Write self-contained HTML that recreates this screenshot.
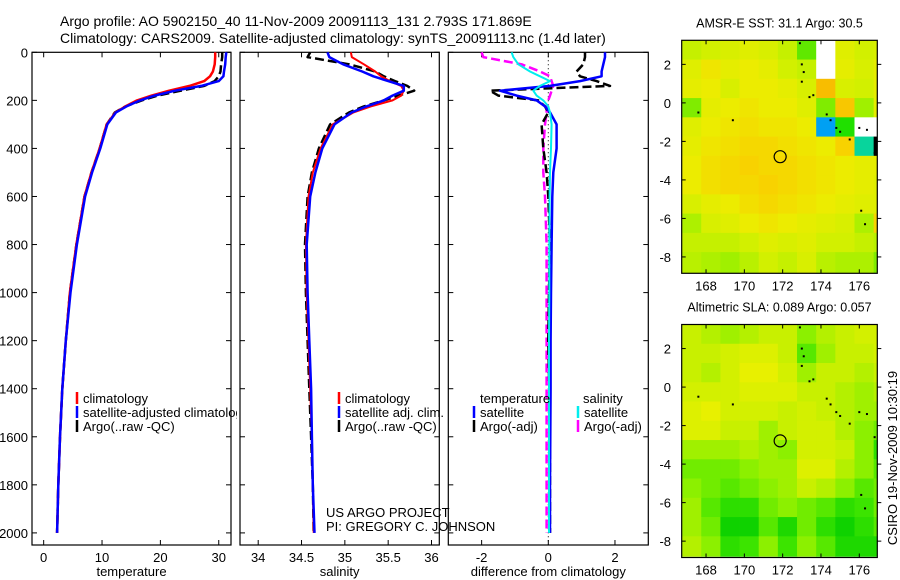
<!DOCTYPE html>
<html><head><meta charset="utf-8"><style>
body{margin:0;background:#fff;}
svg{display:block;font-family:"Liberation Sans",sans-serif;}
</style></head><body>
<svg id="c" width="900" height="580" viewBox="0 0 900 580">
<defs>
<clipPath id="cp1"><rect x="32" y="52" width="205" height="494"/></clipPath>
<clipPath id="cp1b"><rect x="32" y="52" width="199" height="493"/></clipPath>
<clipPath id="cp2"><rect x="240" y="52" width="199" height="493"/></clipPath>
<clipPath id="cp3"><rect x="448" y="52" width="200" height="493"/></clipPath>
<clipPath id="cpm1"><rect x="681.7" y="40.3" width="195.6" height="233"/></clipPath>
<clipPath id="cpm2"><rect x="681.7" y="324.5" width="195.6" height="232.2"/></clipPath>
</defs>
<text x="60" y="26" font-size="14">Argo profile: AO 5902150_40 11-Nov-2009 20091113_131 2.793S 171.869E</text>
<text x="60" y="43" font-size="14">Climatology: CARS2009. Satellite-adjusted climatology: synTS_20091113.nc (1.4d later)</text>
<g id="g"></g>
</svg>
<script>
// ---------- profile data ----------
const depths=[0,20,50,80,100,120,140,160,180,200,225,250,300,400,500,600,800,1000,1200,1400,1600,1800,2000];
const tempClim=[29.4,29.4,29.3,29.0,28.5,27.5,25.0,21.5,18.5,16.0,14.0,12.3,10.8,9.6,8.2,7.0,5.6,4.5,3.8,3.2,2.8,2.5,2.3];
const tempSat=[31.3,31.2,31.1,30.9,30.8,30.0,27.0,22.5,19.0,16.5,14.2,12.4,10.9,9.7,8.3,7.1,5.7,4.6,3.8,3.2,2.8,2.5,2.3];
const tempArgo=[30.6,30.6,30.4,30.3,30.0,29.3,27.5,23.5,19.5,16.8,14.0,12.2,10.8,9.6,8.2,7.0,5.6,4.5,3.8,3.2,2.8,2.5,2.3];
const salClim=[35.07,35.08,35.22,35.35,35.42,35.52,35.65,35.68,35.65,35.55,35.30,35.10,34.86,34.72,34.63,34.58,34.55,34.56,34.58,34.60,34.62,34.63,34.64];
const salSat=[34.80,34.82,34.98,35.20,35.33,35.50,35.68,35.68,35.55,35.45,35.25,35.08,34.88,34.74,34.66,34.60,34.56,34.57,34.59,34.61,34.62,34.63,34.65];
const salArgo=[34.60,34.57,35.05,35.35,35.45,35.58,35.72,35.80,35.62,35.45,35.22,35.05,34.83,34.70,34.62,34.57,34.54,34.55,34.57,34.59,34.61,34.63,34.64];
const dTSat=[1.7,1.7,1.65,1.6,1.6,0.95,0.05,-1.45,-0.95,-0.35,-0.1,0.05,0.25,0.25,0.15,0.12,0.1,0.08,0.07,0.07,0.06,0.05,0.05];
const dTArgo=[1.1,1.1,1.05,0.85,0.95,1.45,1.85,-1.75,-1.5,-0.3,-0.1,0,-0.2,-0.15,-0.05,0,0.05,0.02,0,0.03,0.05,0.05,0.05];
const dSSat=[-1.1,-1.05,-0.9,-0.55,-0.25,0.05,-0.25,-0.45,-0.35,-0.15,0,0.05,0.1,0.08,0.05,0.04,0.03,0.03,0.02,0.02,0.02,0.02,0.02];
const dSArgo=[-2.0,-1.95,-0.8,-0.25,0.05,0.1,0.15,0.1,0.05,0,-0.05,-0.05,-0.1,-0.15,-0.15,-0.1,-0.05,-0.05,-0.05,-0.05,-0.05,-0.05,-0.05];
const depthTicks=[0,200,400,600,800,1000,1200,1400,1600,1800,2000];
const tempTicks=[0,10,20,30];
const salTicks=[34,34.5,35,35.5,36];
const salTickLabels=["34","34.5","35","35.5","36"];
const diffTicks=[-2,0,2];
// ---------- map data ----------
const lonTicks=[168,170,172,174,176];
const latTicks=[2,0,-2,-4,-6,-8];
const argoLon=171.869, argoLat=-2.793;
const sstGrid=[
[30.0,30.1,30.2,30.3,30.2,30.0,29.5,null,30.3,30.1,30.2],
[30.3,30.6,30.4,30.5,30.4,30.1,30.0,null,30.4,30.2,30.4],
[30.4,30.5,30.2,30.5,30.5,30.4,30.2,31.1,30.2,30.1,30.4],
[29.6,30.4,30.5,30.6,30.5,30.5,30.3,29.6,31.0,29.7,30.4],
[30.3,30.5,30.6,30.7,30.6,30.6,30.5,28.6,29.3,null,null],
[30.4,30.6,30.7,30.8,30.8,30.7,30.6,30.5,30.9,29.0,28.5],
[30.5,30.7,30.8,30.9,30.8,30.8,30.7,30.6,30.5,30.4,30.4],
[30.5,30.7,30.8,30.8,30.9,30.8,30.7,30.6,30.5,30.4,30.3],
[30.2,30.4,30.5,30.7,30.8,30.7,30.6,30.5,30.4,30.3,30.3],
[29.8,30.2,30.3,30.5,30.6,30.5,30.4,30.3,30.2,29.8,30.9],
[30.0,30.0,30.0,30.1,30.3,30.2,30.3,30.1,30.1,30.0,29.9],
[29.9,29.8,29.7,29.9,30.1,30.0,30.2,29.9,29.8,29.8,29.6],
[29.9,29.8,29.7,29.9,30.1,30.0,30.2,29.9,29.8,29.8,29.6]];
const slaGrid=[
[0.10,0.09,0.08,0.09,0.10,0.10,0.07,0.09,0.10,0.11,0.11],
[0.10,0.10,0.11,0.12,0.12,0.10,0.05,0.08,0.10,0.10,0.11],
[0.10,0.09,0.11,0.13,0.13,0.11,0.08,0.10,0.10,0.09,0.10],
[0.11,0.11,0.11,0.12,0.12,0.12,0.10,0.10,0.09,0.08,0.09],
[0.12,0.13,0.11,0.11,0.11,0.10,0.11,0.10,0.09,0.08,0.08],
[0.12,0.12,0.10,0.10,0.08,0.10,0.11,0.11,0.09,0.07,0.06],
[0.08,0.08,0.08,0.09,0.08,0.07,0.11,0.11,0.10,0.07,0.03],
[0.06,0.06,0.06,0.07,0.08,0.08,0.12,0.12,0.09,0.07,0.05],
[0.07,0.06,0.05,0.06,0.07,0.08,0.10,0.09,0.07,0.05,0.06],
[0.08,0.05,0.03,0.03,0.06,0.07,0.06,0.05,0.03,0.04,0.06],
[0.08,0.06,0.01,0.01,0.05,0.02,0.06,0.03,0.01,0.03,0.05],
[0.09,0.07,0.03,0.04,0.07,0.04,0.07,0.05,0.02,0.02,0.02],
[0.09,0.07,0.03,0.04,0.07,0.04,0.07,0.05,0.02,0.02,0.02]];
const islandLon=[172.9,173.0,173.1,173.0,173.4,173.6,174.3,174.5,174.8,175.0,175.5,176.0,176.4,176.8,176.1,176.3,167.6,169.4];
const islandLat=[3.1,2.0,1.6,1.1,0.3,0.4,-0.6,-0.9,-1.3,-1.5,-1.9,-1.3,-1.4,-2.6,-5.6,-6.3,-0.5,-0.9];

const NS="http://www.w3.org/2000/svg";
const G=document.getElementById('g');
function mk(tag,attrs,parent){const e=document.createElementNS(NS,tag);for(const k in attrs)e.setAttribute(k,attrs[k]);(parent||G).appendChild(e);return e;}

// depth axis
const yTop=52.3, yScale=0.2403;
function yD(d){return yTop+d*yScale;}
const P1={l:32,r:231,min:-2,max:32.1};
const P2={l:240,r:439.3,min:33.79,max:36.09};
const P3={l:448.3,r:648.3,min:-3,max:3};
const yBot=545;
function xf(p){return v=>p.l+(v-p.min)/(p.max-p.min)*(p.r-p.l);}
const x1=xf(P1),x2=xf(P2),x3=xf(P3);

function frame(p,xs,ticks,labels,name,xlabel,ylabels){
  const g=mk('g',{});
  
  
  const r=mk('rect',{x:p.l,y:yTop,width:p.r-p.l,height:yBot-yTop,fill:'none',stroke:'#000','stroke-width':1.2},g);
  
  
  depthTicks.forEach(d=>{
    const y=yD(d);
    mk('line',{x1:p.l,x2:p.l+5,y1:y,y2:y,stroke:'#000'},g);
    mk('line',{x1:p.r,x2:p.r-5,y1:y,y2:y,stroke:'#000'},g);
    if(ylabels){const t=mk('text',{x:28,y:y+5,'font-size':13,'text-anchor':'end'},g);t.textContent=d;
      
      }
  });
  ticks.forEach((v,i)=>{
    const x=xs(v);
    mk('line',{x1:x,x2:x,y1:yBot,y2:yBot-5,stroke:'#000'},g);
    mk('line',{x1:x,x2:x,y1:yTop,y2:yTop+5,stroke:'#000'},g);
    const t=mk('text',{x:x,y:562,'font-size':13,'text-anchor':'middle'},g);t.textContent=labels[i];
    
    
  });
  const xl=mk('text',{x:(p.l+p.r)/2,y:576,'font-size':13,'text-anchor':'middle'},g);xl.textContent=xlabel;
  
  
}
frame(P1,x1,tempTicks,tempTicks.map(String),'temperature-panel','temperature',true);
frame(P2,x2,salTicks,salTickLabels,'salinity-panel','salinity',false);
frame(P3,x3,diffTicks,diffTicks.map(String),'difference-panel','difference from climatology',false);

function line(vals,xs,color,w,dash,clip,name){
  const pts=vals.map((v,i)=>xs(v).toFixed(1)+','+yD(depths[i]).toFixed(1)).join(' ');
  const a={points:pts,fill:'none',stroke:color,'stroke-width':w,'clip-path':'url(#'+clip+')','stroke-linejoin':'round'};
  if(dash)a['stroke-dasharray']=dash;
  const e=mk('polyline',a);
  
  
}
line(tempArgo,x1,'#000',2.5,'9,4','cp1b','temp-argo-line');
line(tempClim,x1,'#f00',2.5,null,'cp1b','temp-climatology-line');
line(tempSat,x1,'#00f',2.5,null,'cp1b','temp-satellite-line');
line(salArgo,x2,'#000',2.5,'9,4','cp2','sal-argo-line');
line(salClim,x2,'#f00',2,null,'cp2','sal-climatology-line');
line(salSat,x2,'#00f',2.5,null,'cp2','sal-satellite-line');
const zl=mk('line',{x1:x3(0),x2:x3(0),y1:yTop,y2:yBot,stroke:'#000','stroke-dasharray':'1,3'});


line(dSArgo,x3,'#f0f',2.5,'9,4','cp3','diff-sal-argo-line');
line(dTArgo,x3,'#000',2.5,'9,4','cp3','diff-temp-argo-line');
line(dTSat,x3,'#00f',2.5,null,'cp3','diff-temp-satellite-line');
line(dSSat,x3,'#0ee',2,null,'cp3','diff-sal-satellite-line');

function legend(x,y,color,label,clip,name){
  const g=mk('g',clip?{'clip-path':'url(#'+clip+')'}:{});
  
  
  if(color)mk('line',{x1:x,x2:x,y1:y-6,y2:y+6,stroke:color,'stroke-width':2.5},g);
  const t=mk('text',{x:x+(color?6:0),y:y+5,'font-size':13},g);t.textContent=label;
}
legend(77,398,'#f00','climatology','cp1','legend-temp-climatology');
legend(77,412,'#00f','satellite-adjusted climatology','cp1','legend-temp-satellite');
legend(77,426,'#000','Argo(..raw -QC)','cp1','legend-temp-argo');
legend(339,398,'#f00','climatology',null,'legend-sal-climatology');
legend(339,412,'#00f','satellite adj. clim.',null,'legend-sal-satellite');
legend(339,426,'#000','Argo(..raw -QC)',null,'legend-sal-argo');
legend(480,398,null,'temperature',null,'legend-diff-temp-header');
legend(474,412,'#00f','satellite',null,'legend-diff-temp-satellite');
legend(474,426,'#000','Argo(-adj)',null,'legend-diff-temp-argo');
legend(583,398,null,'salinity',null,'legend-diff-sal-header');
legend(578,412,'#0ee','satellite',null,'legend-diff-sal-satellite');
legend(578,426,'#f0f','Argo(-adj)',null,'legend-diff-sal-argo');
const c1=mk('text',{x:326,y:517,'font-size':13});c1.textContent='US ARGO PROJECT';


const c2=mk('text',{x:326,y:531,'font-size':13});c2.textContent='PI: GREGORY C. JOHNSON';



// ---------- maps ----------
const M={l:681.7,r:877.3,lonMin:166.73,lonMax:176.94,latMax:3.25,latMin:-8.85};
function lerpCol(stops,v){
  if(v<=stops[0][0])return stops[0][1];
  for(let i=1;i<stops.length;i++){if(v<=stops[i][0]){const a=stops[i-1],b=stops[i],t=(v-a[0])/(b[0]-a[0]);
    return 'rgb('+[0,1,2].map(k=>Math.round(a[1][k]+(b[1][k]-a[1][k])*t)).join(',')+')';}}
  const l=stops[stops.length-1][1];return 'rgb('+l.join(',')+')';
}
function fixStops(s){return s.map(x=>[x[0],x[1]]);}
const sstStops=[[28.5,[0,144,255]],[28.9,[0,208,208]],[29.3,[32,224,0]],[29.7,[160,240,0]],[30.1,[210,240,0]],[30.5,[236,236,0]],[30.9,[248,210,0]],[31.3,[248,168,0]]];
const slaStops=[[0.0,[0,204,0]],[0.04,[60,228,0]],[0.07,[140,240,0]],[0.10,[200,240,0]],[0.13,[232,240,0]]];
function colArr(s,v){const c=lerpCol(s,v);return c;}
function drawMap(top,grid,stops,clip,name,title){
  const bot=top+233;
  const ys=lat=>top+(M.latMax-lat)/(M.latMax-M.latMin)*(bot-top);
  const xs=lon=>M.l+(lon-M.lonMin)/(M.lonMax-M.lonMin)*(M.r-M.l);
  const g=mk('g',{});
  
  
  const cg=mk('g',{'clip-path':'url(#'+clip+')'},g);
  grid.forEach((row,j)=>row.forEach((v,i)=>{
    const lon0=166.75+i, lat0=3.25-j;
    const r=mk('rect',{x:xs(lon0).toFixed(2),y:ys(lat0).toFixed(2),width:(xs(lon0+1)-xs(lon0)+0.4).toFixed(2),height:(ys(lat0-1)-ys(lat0)+0.4).toFixed(2),fill:v===null?'#fff':colArr(stops,v)},cg);
    
    
  }));
  islandLon.forEach((lo,k)=>{
    const d=mk('rect',{x:xs(lo)-1,y:ys(islandLat[k])-1,width:2,height:2,fill:'#000'},cg);
    
    
  });
  const c=mk('circle',{cx:xs(argoLon),cy:ys(argoLat),r:6,fill:'none',stroke:'#000','stroke-width':1.2},g);
  
  
  const f=mk('rect',{x:M.l,y:top,width:M.r-M.l,height:bot-top,fill:'none',stroke:'#000','stroke-width':1.2},g);
  
  
  lonTicks.forEach(lo=>{const x=xs(lo);
    mk('line',{x1:x,x2:x,y1:bot,y2:bot-4,stroke:'#000'},g);mk('line',{x1:x,x2:x,y1:top,y2:top+4,stroke:'#000'},g);
    const t=mk('text',{x:x,y:bot+17,'font-size':13,'text-anchor':'middle'},g);t.textContent=lo;
    
    });
  latTicks.forEach(la=>{const y=ys(la);
    mk('line',{x1:M.l,x2:M.l+4,y1:y,y2:y,stroke:'#000'},g);mk('line',{x1:M.r,x2:M.r+4,y1:y,y2:y,stroke:'#000'},g);
    const t=mk('text',{x:671,y:y+5,'font-size':13,'text-anchor':'end'},g);t.textContent=la;
    
    });
  const tt=mk('text',{x:(M.l+M.r)/2,y:top-13,'font-size':12.5,'text-anchor':'middle'},g);tt.textContent=title;
  
  
}
drawMap(40.3,sstGrid,sstStops,'cpm1','sst-map','AMSR-E SST: 31.1 Argo: 30.5');
drawMap(324.5,slaGrid,slaStops,'cpm2','sla-map','Altimetric SLA: 0.089 Argo: 0.057');
const st=mk('text',{x:0,y:0,'font-size':13,'text-anchor':'middle',transform:'translate(897,458) rotate(-90)'});
st.textContent='CSIRO 19-Nov-2009 10:30:19';


</script>
</body></html>
